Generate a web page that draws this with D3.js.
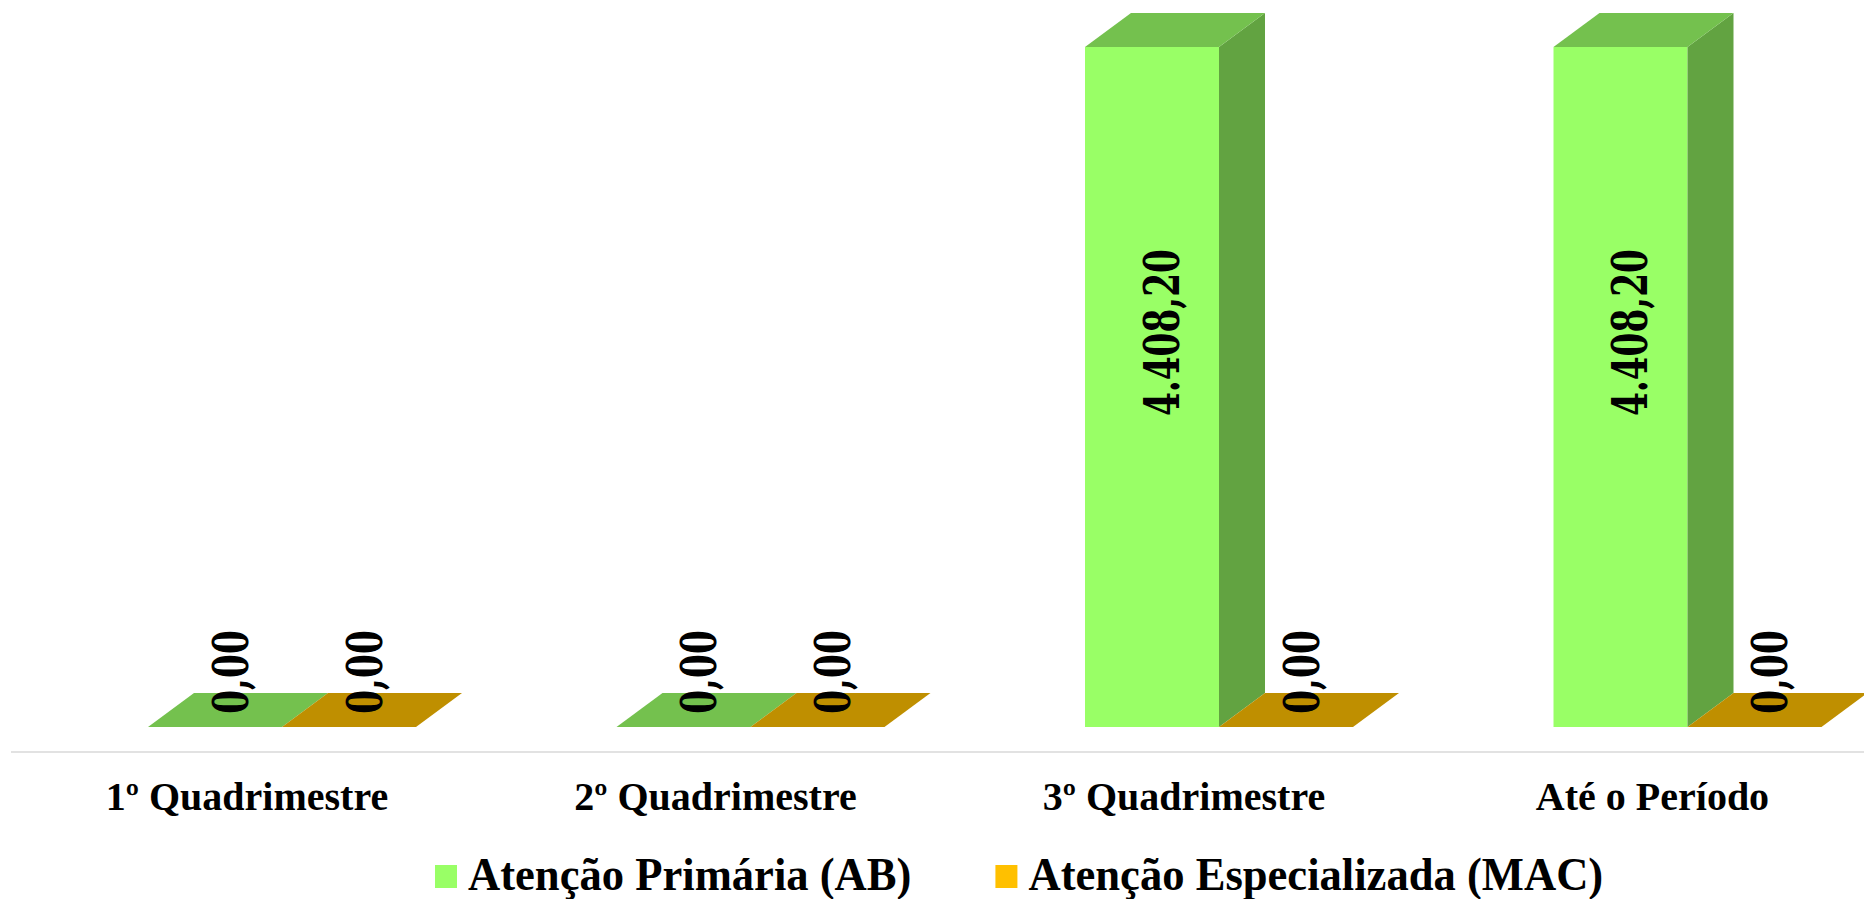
<!DOCTYPE html>
<html>
<head>
<meta charset="utf-8">
<script src="https://cdn.jsdelivr.net/npm/d3@7"></script>
<style>
  html, body { margin: 0; padding: 0; background: #ffffff; }
  svg { display: block; }
</style>
</head>
<body>
<svg id="chart" width="1864" height="899"></svg>
<script>
// ---- data ----
const categories = ["1º Quadrimestre", "2º Quadrimestre", "3º Quadrimestre", "Até o Período"];
const seriesNames = ["Atenção Primária (AB)", "Atenção Especializada (MAC)"];
const abValues = [0.00, 0.00, 4408.20, 4408.20];
const macValues = [0.00, 0.00, 0.00, 0.00];

// ---- styles ----
const faceColors = [
  { front: "#99FF66", top: "#74C14E", side: "#62A341", legend: "#99FF66" },
  { front: "#FFC000", top: "#BF8F00", side: "#A07800", legend: "#FFC000" }
];
const depthX = 46, depthY = 34;

const svg = d3.select("#chart");
const ptBR = d3.formatLocale({ decimal: ",", thousands: ".", grouping: [3], currency: ["R$ ", ""] });
const fmt = ptBR.format(",.2f");

const x0 = d3.scaleBand().domain(categories).range([47.75, 1921.75]).paddingInner(0.428).paddingOuter(0.214);
const x1 = d3.scaleBand().domain(seriesNames).range([0, x0.bandwidth()]).padding(0);
const y = d3.scaleLinear().domain([0, d3.max(abValues.concat(macValues))]).range([727, 47]);

// axis line
svg.append("line")
  .attr("x1", 11).attr("x2", 1864).attr("y1", 752).attr("y2", 752)
  .attr("stroke", "#D9D9D9").attr("stroke-width", 1.5);

const rows = categories.map((c, i) => ({ cat: c, vals: [abValues[i], macValues[i]] }));

const bars = svg.append("g");
rows.forEach(r => {
  r.vals.forEach((v, si) => {
    const name = seriesNames[si];
    const xl = x0(r.cat) + x1(name);
    const w = x1.bandwidth();
    const yt = y(v), yb = y(0);
    const col = faceColors[si];
    const g = bars.append("g");
    if (yb - yt > 0.5) {
      g.append("rect").attr("x", xl).attr("y", yt).attr("width", w).attr("height", yb - yt)
        .attr("fill", col.front);
      g.append("path").attr("d", d3.line()([
        [xl + w, yt], [xl + w + depthX, yt - depthY], [xl + w + depthX, yb - depthY], [xl + w, yb]
      ]) + "Z").attr("fill", col.side);
    }
    g.append("path").attr("d", d3.line()([
      [xl, yt], [xl + w, yt], [xl + w + depthX, yt - depthY], [xl + depthX, yt - depthY]
    ]) + "Z").attr("fill", col.top);
  });
});

// data labels
const labels = svg.append("g");
rows.forEach(r => {
  r.vals.forEach((v, si) => {
    const name = seriesNames[si];
    const xl = x0(r.cat) + x1(name);
    const w = x1.bandwidth();
    const yt = y(v), yb = y(0);
    let cx, cy;
    if (yb - yt > 0.5) {
      cx = xl + w / 2 + 9;
      cy = yt + 0.42 * (yb - yt);
    } else {
      cx = xl + w / 2 + 15;
      cy = yb - 55;
    }
    labels.append("text")
      .attr("transform", `translate(${cx},${cy}) rotate(-90) scale(0.7,1)`)
      .attr("text-anchor", "middle")
      .attr("dy", "0.36em")
      .attr("font-family", "'DejaVu Serif', serif")
      .attr("font-weight", "bold")
      .attr("font-size", 49)
      .attr("fill", "#000")
      .text(fmt(v));
  });
});

// category labels
svg.append("g").selectAll("text").data(categories).join("text")
  .attr("x", d => x0(d) + x0.bandwidth() / 2 - 35)
  .attr("y", 809.5)
  .attr("text-anchor", "middle")
  .attr("font-family", "'Liberation Serif', serif")
  .attr("font-weight", "bold")
  .attr("font-size", 40)
  .attr("fill", "#000")
  .text(d => d);

// legend
const legend = svg.append("g");
let lx = 435;
const squeeze = 0.97;
seriesNames.forEach((name, i) => {
  legend.append("rect").attr("x", lx).attr("y", 865).attr("width", 22).attr("height", 23)
    .attr("fill", faceColors[i].legend);
  const t = legend.append("text")
    .attr("transform", `translate(${lx + 33},889.5) scale(${squeeze},1)`)
    .attr("font-family", "'Liberation Serif', serif")
    .attr("font-weight", "bold")
    .attr("font-size", 46)
    .attr("fill", "#000")
    .text(name);
  const tw = t.node().getComputedTextLength() * squeeze;
  lx = lx + 33 + tw + 84;
});
</script>
</body>
</html>
